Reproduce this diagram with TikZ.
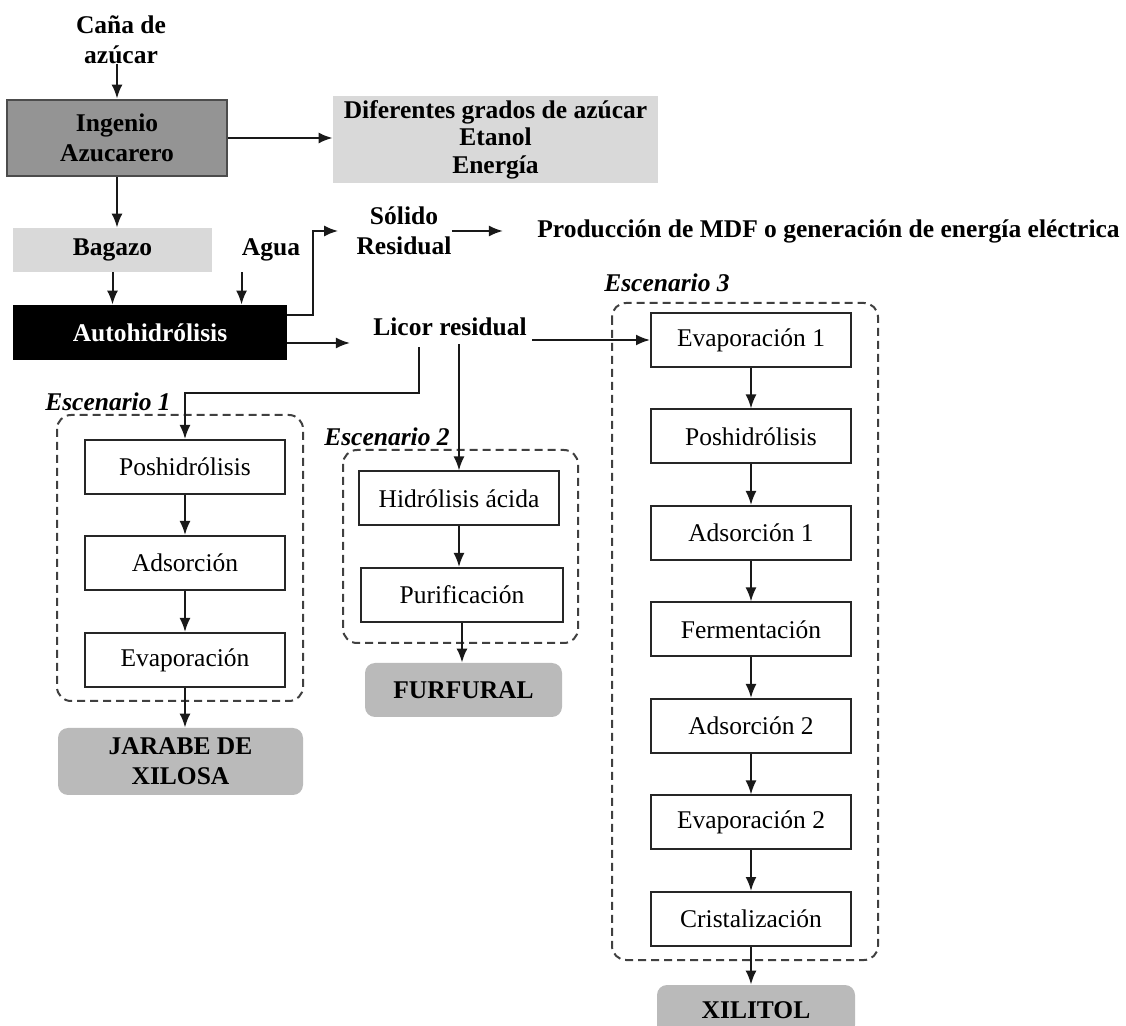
\documentclass[tikz,border=0pt]{standalone}
\usepackage{fontspec}
\setmainfont{Liberation Serif}
\usetikzlibrary{positioning, calc}
\usetikzlibrary{arrows.meta}
\tikzset{>={Latex[length=7pt,width=5.5pt]}}
\colorlet{millgray}{black!42}
\colorlet{sidegray}{black!15}
\colorlet{prodgray}{black!27}
\tikzset{ % box and line styles
  my text/.style={font=\bfseries\fontsize{12.75}{15}\selectfont,align=center,inner sep=0},
  stepbox/.style={draw=black!85,line width=1pt,fill=white,minimum width=100pt,
    minimum height=27pt,inner sep=0,font=\fontsize{12.75}{15}\selectfont},
  grey box/.style={my text,fill=sidegray},
  product/.style={my text,fill=prodgray,rounded corners=5pt},
  scenario/.style={draw=black!75,line width=1pt,dash pattern=on 4pt off 2.5pt,rounded corners=7pt},
  scen label/.style={my text,font=\bfseries\itshape\fontsize{12.75}{15}\selectfont},
  flow/.style={->,line width=1pt,black!90}
}

\begin{document}
\begin{tikzpicture}[x=0.5pt,y=-0.5pt]
\useasboundingbox (0,0) rectangle (1126,1026);

% sugar mill part
\node[my text] (cane) at (121,40) {Caña de\\azúcar};
\node[my text,fill=millgray,draw=black!70,line width=1.4pt,minimum width=110pt,minimum height=38pt]
  (mill) at (117,138) {Ingenio\\Azucarero};
\node[grey box,font=\bfseries\fontsize{12.75}{13.75}\selectfont,minimum width=162.5pt,minimum height=43.5pt]
  (prods) at (495.5,139.5) {Diferentes grados de azúcar\\Etanol\\Energía};
\node[grey box,minimum width=99.5pt,minimum height=22pt] (bagasse) at (112.5,250) {Bagazo};
\node[my text] (water) at (271,250) {Agua};
\node[my text,fill=black,text=white,minimum width=137pt,minimum height=27.5pt]
  (auto) at (150,332.5) {Autohidrólisis};
\node[my text] (solid) at (404,231) {Sólido\\Residual};
\node[my text] (mdf) at (828.5,231) {Producción de MDF o generación de energía eléctrica};
\node[my text] (liquor) at (450,327) {Licor residual};

% scenario 1
\node[scen label] (lab1) at (108,402) {Escenario 1};
\draw[scenario] (57,415) rectangle (303,701);
\foreach \name/\y [count=\i] in {Poshidrólisis/467,Adsorción/563,Evaporación/660}
  \node[stepbox] (a\i) at (185,\y) {\name};
\node[product,minimum width=122.5pt,minimum height=33.5pt] (syrup) at (180.5,761.5) {JARABE DE\\XILOSA};

% scenario 2
\node[scen label] (lab2) at (387,437) {Escenario 2};
\draw[scenario] (343,450) rectangle (578,643);
\node[stepbox] (b1) at (459,498.5) {Hidrólisis ácida};
\node[stepbox,minimum width=101pt] (b2) at (462,595) {Purificación};
\node[product,minimum width=98.5pt,minimum height=27pt] (furfural) at (463.5,690) {FURFURAL};

% scenario 3
\node[scen label] (lab3) at (667,283) {Escenario 3};
\draw[scenario] (612,303) rectangle (878,960);
\foreach \name [count=\i] in {Evaporación 1,Poshidrólisis,Adsorción 1,Fermentación,Adsorción 2,Evaporación 2,Cristalización}
  \node[stepbox] (c\i) at (751,243.5+96.5*\i) {\name};
\node[product,minimum width=99pt,minimum height=25pt] (xylitol) at (756,1010) {XILITOL};

% connections
\draw[flow] (mill.north |- cane.south) -- (mill.north);
\draw[flow] (mill.east) -- (mill.east -| prods.west);
\draw[flow] (mill.south) -- (mill.south |- bagasse.north);
\draw[flow] (bagasse.south) -- (bagasse.south |- auto.north);
\draw[flow] (water.west |- bagasse.south) -- (water.west |- auto.north);
\draw[flow] ($(auto.east)+(0,-17.5)$) -- ++(26,0) |- ($(solid.west)+(-18,0)$);
\draw[flow] (solid.east) -- ($(mdf.west)+(-34,0)$);
\draw[flow] ($(auto.east)+(0,10.5)$) -- ($(liquor.west)+(-23,16)$);
\draw[flow] ($(liquor.east)+(5,13)$) -- (c1.west);
\draw[flow] ($(liquor.south)+(-31,11)$) -- ++(0,46) -| (a1.north);
\draw[flow] ($(liquor.south)+(9,8)$) -- (b1.north);
\foreach\i/\j in {a1/a2,a2/a3,a3/syrup,b1/b2,b2/furfural,c1/c2,c2/c3,c3/c4,c4/c5,c5/c6,c6/c7,c7/xylitol}
  \draw[flow] (\i.south) -- (\i.south |- \j.north);
\end{tikzpicture}
\end{document}
